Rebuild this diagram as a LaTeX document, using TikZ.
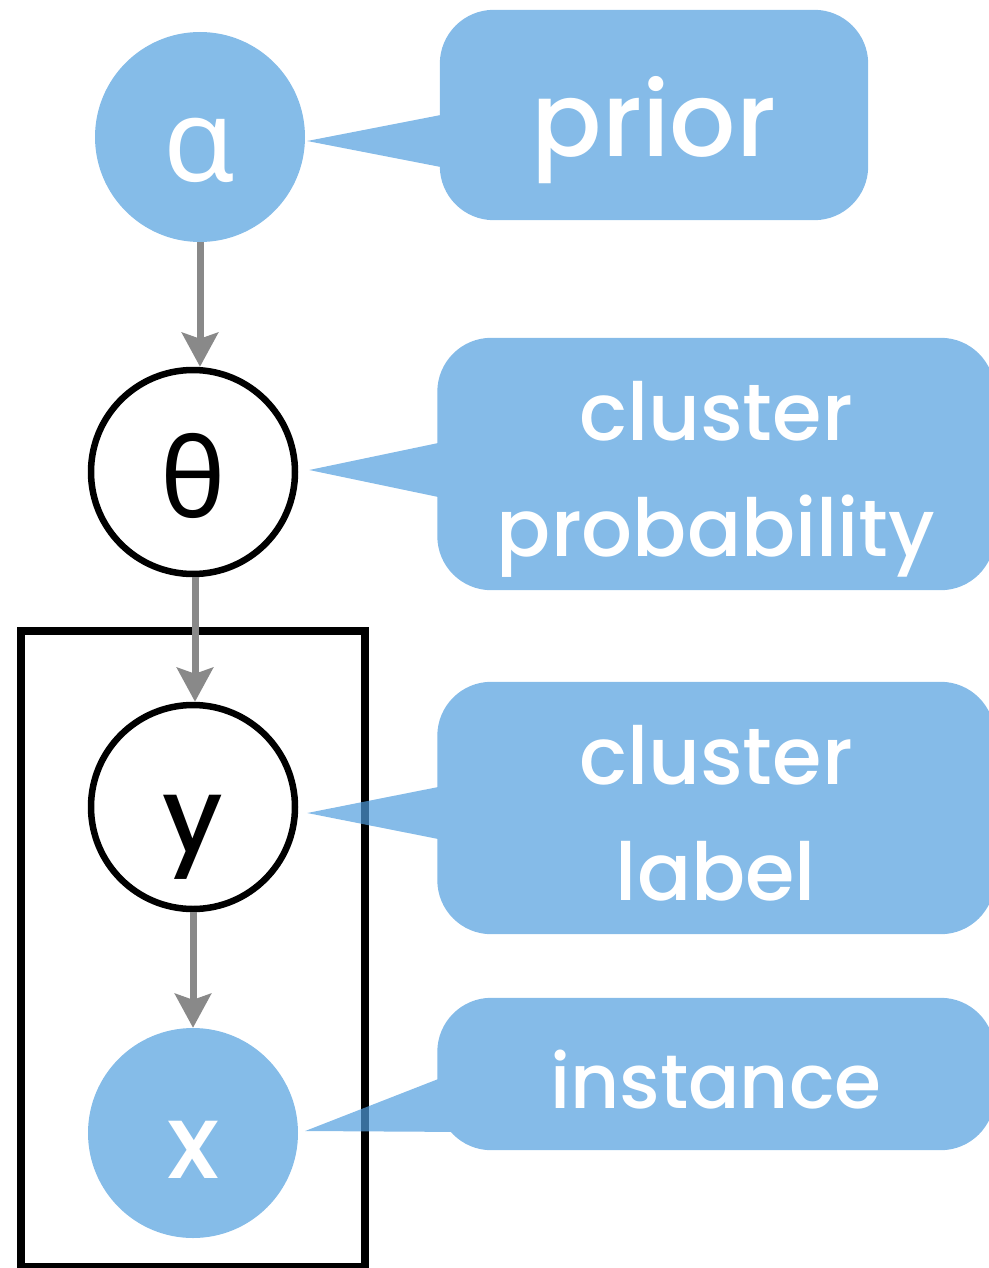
\documentclass[tikz,border=0pt]{standalone}
\usepackage{fontspec}
\setmainfont{Poppins Medium}
\newfontfamily\greekfont{Noto Sans}
\usetikzlibrary{arrows.meta,calc,backgrounds}

\definecolor{nodeblue}{RGB}{133,188,232}
\definecolor{calloutblue}{RGB}{81,158,222}
\definecolor{linkgrey}{RGB}{137,137,137}

\begin{document}
\begin{tikzpicture}[x=1pt, y=1pt, node distance=335pt,
	observed/.style={circle, fill=nodeblue, text=white, minimum size=210pt, inner sep=0pt, text height=90pt, text depth=0pt, font=\fontsize{104}{104}\selectfont},
	latent/.style={circle, draw=black, line width=6.5pt, fill=white, minimum size=204pt, inner sep=0pt, text height=90pt, text depth=0pt, font=\fontsize{104}{104}\selectfont},
	link/.style={-{Stealth[length=34pt, width=36pt, inset=6pt]}, draw=linkgrey, line width=7pt},
	note/.style={text=white, align=center, inner sep=0pt, font=\fontsize{80}{116}\selectfont},
	notefill/.style={fill=calloutblue, fill opacity=0.7},
	plate/.style={draw=black, line width=7.5pt}]

		\useasboundingbox (0,0) rectangle (988,-1268);

		\node[observed] (alpha) at (200,-137) {\greekfont\fontsize{116}{116}\selectfont α};
		\node[latent] (theta) [below of=alpha, xshift=-7pt] {\greekfont\fontsize{110}{110}\selectfont θ};
		\node[latent] (y) [below of=theta] {y};
		\node[observed] (x) [below of=y, node distance=326pt] {x};

		\node[note, minimum width=428pt, minimum height=210pt, text height=84pt, text depth=0pt, font=\fontsize{104}{116}\selectfont] (prior) at (654,-115) {prior};
		\node[note, minimum width=557pt, minimum height=252pt, label={[note, yshift=-15pt]center:{cluster\\probability}}] (clprob) at (716,-464) {};
		\node[note, minimum width=557pt, minimum height=252pt, label={[note, yshift=-5pt]center:{cluster\\label}}] (cllabel) at (716,-808) {};
		\node[note, minimum width=557pt, minimum height=152pt, text height=68pt, text depth=0pt, font=\fontsize{76}{116}\selectfont] (inst) at (716,-1074) {instance};

		\coordinate (tprior) at ($(alpha.east)+(2,-4)$);
		\coordinate (tclprob) at ($(theta.east)+(11,2)$);
		\coordinate (tcllabel) at ($(y.east)+(9,-6)$);
		\coordinate (tinst) at ($(x.east)+(7,2)$);

		\begin{scope}[on background layer]
			\draw[plate] (21,-631) rectangle (365,-1267);
			\fill[notefill] [rounded corners=54pt] (prior.south west) rectangle (prior.north east)
				[sharp corners] ($(prior.west |- tprior)+(1,-26)$) -- (tprior) -- ($(prior.west |- tprior)+(1,26)$) -- cycle;
			\fill[notefill] [rounded corners=54pt] (clprob.south west) rectangle (clprob.north east)
				[sharp corners] ($(clprob.west |- tclprob)+(1,-27)$) -- (tclprob) -- ($(clprob.west |- tclprob)+(1,27)$) -- cycle;
			\fill[notefill] [rounded corners=54pt] (cllabel.south west) rectangle (cllabel.north east)
				[sharp corners] ($(cllabel.west |- tcllabel)+(1,-26)$) -- (tcllabel) -- ($(cllabel.west |- tcllabel)+(1,26)$) -- cycle;
			\fill[notefill] [rounded corners=54pt] (inst.south west) rectangle (inst.north east)
				[sharp corners] ($(inst.west |- tinst)+(30,-1)$) -- (tinst) -- ($(inst.west |- tinst)+(1,52)$) -- cycle;
		\end{scope}

		\draw[link] (alpha.south) -- (alpha.south |- theta.north);
		\draw[link] ($(theta.south)+(2,0)$) -- ($(theta.south |- y.north)+(2,0)$);
		\draw[link] (y.south) -- (y.south |- x.north);

\end{tikzpicture}
\end{document}
